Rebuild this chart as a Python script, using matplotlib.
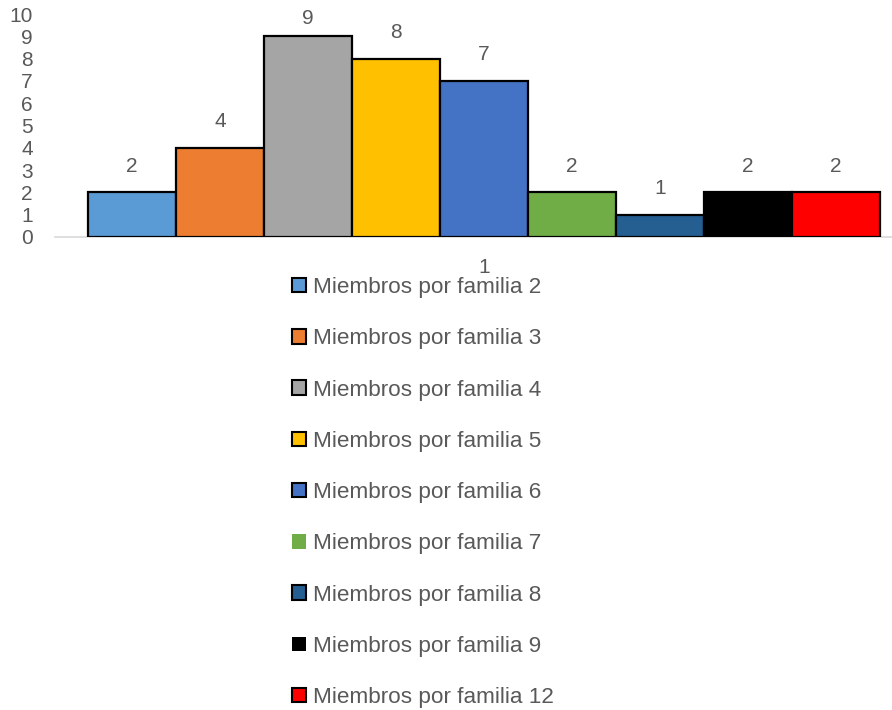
import numpy as np
import matplotlib.pyplot as plt
from matplotlib.patches import Patch

series = ["Miembros por familia 2", "Miembros por familia 3", "Miembros por familia 4",
          "Miembros por familia 5", "Miembros por familia 6", "Miembros por familia 7",
          "Miembros por familia 8", "Miembros por familia 9", "Miembros por familia 12"]
values = [2, 4, 9, 8, 7, 2, 1, 2, 2]
colors = ["#5B9BD5", "#ED7D31", "#A5A5A5", "#FFC000", "#4472C4",
          "#70AD47", "#255E91", "#000000", "#FF0000"]
category = "1"

plt.rcParams['font.family'] = ['Liberation Sans', 'DejaVu Sans']
txt = "#595959"

fig = plt.figure(figsize=(8.92, 7.10), dpi=100)
ax = fig.add_axes([55 / 892, 1 - 237 / 710, 837 / 892, 223 / 710])

n = len(values)
x = np.arange(n) - (n - 1) / 2
ax.bar(x, values, width=1.0, color=colors, edgecolor="black", linewidth=1.6, zorder=3)
# data labels sit ~26 px above the bar, kept inside the plot area
for xi, v in zip(x, values):
    ax.text(xi, min(v + 1.17, 9.82), str(v), ha="center", va="center",
            fontsize=15, color=txt)

ax.set_xlim(-4.5 - 33 / 88, 4.5 + 12 / 88)
ax.set_ylim(0, 10)
ax.set_yticks(range(0, 11))
ax.set_xticks([0])
ax.set_xticklabels([category])
ax.tick_params(axis="y", length=0, pad=16, labelsize=15, labelcolor=txt)
ax.tick_params(axis="x", length=0, pad=15, labelsize=15, labelcolor=txt)
for s in ["top", "right", "left"]:
    ax.spines[s].set_visible(False)
ax.spines["bottom"].set_color("#D9D9D9")
ax.spines["bottom"].set_linewidth(1.2)
ax.spines["bottom"].set_zorder(1)

handles = []
for lab, c in zip(series, colors):
    ec = "none" if c in ("#70AD47", "#000000") else "black"
    handles.append(Patch(facecolor=c, edgecolor=ec, linewidth=1.5, label=lab))
fig.legend(handles=handles, loc="upper left", bbox_to_anchor=(292 / 892, 1 - 277 / 710),
           frameon=False, fontsize=16.2, labelcolor=txt, handlelength=0.62, handleheight=0.62,
           handletextpad=0.3, labelspacing=1.345, borderpad=0, borderaxespad=0)

fig.savefig("out.png", dpi=100)
